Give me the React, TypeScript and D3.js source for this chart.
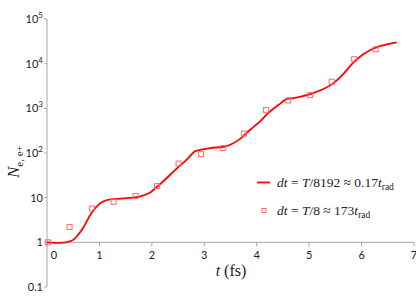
import React from 'react';
import * as d3 from 'd3';

// fine time step (line)
const lineT = [0, 0.26, 0.48, 0.67, 0.86, 0.99, 1.21, 1.46, 1.78, 1.97, 2.13, 2.51, 2.67, 2.83, 2.96, 3.11, 3.37, 3.69, 3.88, 4.07, 4.19, 4.42, 4.58, 4.7, 4.86, 5.02, 5.24, 5.46, 5.65, 5.81, 6.0, 6.19, 6.35, 6.67];
const lineN = [1.0, 0.97, 1.1, 1.95, 4.7, 7.1, 9.2, 9.6, 10.7, 13.1, 18.8, 49, 72, 110, 120, 129, 138, 210, 336, 517, 725, 1200, 1620, 1700, 1860, 2090, 2600, 3620, 5800, 9600, 15200, 20800, 24600, 30000];

// coarse time step (squares)
const markT = [0.02, 0.43, 0.86, 1.27, 1.69, 2.1, 2.51, 2.94, 3.36, 3.76, 4.18, 4.6, 5.02, 5.43, 5.86, 6.27];
const markN = [1.0, 2.2, 5.7, 8.1, 10.9, 18.2, 58, 94, 129, 274, 910, 1500, 1970, 3940, 12600, 21000];

const xTicks = [0, 1, 2, 3, 4, 5, 6, 7];
const yTicks = [0.1, 1, 10, 100, 1000, 10000, 100000];

const W = 416;
const H = 302;

const App = () => {
  const x = d3.scaleLinear().domain([0, 7]).range([47, 414]);
  const y = d3.scaleLog().domain([0.1, 100000]).range([287, 19]);

  const line = d3.line<number>()
    .x((_, i) => x(lineT[i]))
    .y((d) => y(d))
    .curve(d3.curveMonotoneX);

  const axisColor = '#a6a6a6';
  const tickFont = 'Lato, "Open Sans", sans-serif';
  const serif = '"Liberation Serif", "DejaVu Serif", serif';
  const red = '#ff0000';
  const markColor = '#ff6a6a';

  return (
    <svg width={W} height={H} style={{ position: 'absolute', left: 0, top: 0, background: '#fff' }}>
      {/* y axis */}
      <line x1={x(0)} x2={x(0)} y1={y(100000)} y2={y(0.1)} stroke={axisColor} strokeWidth={1} />
      {yTicks.map((v) => (
        <g key={v}>
          <line x1={x(0) - 3} x2={x(0)} y1={y(v)} y2={y(v)} stroke={axisColor} />
          <text x={43} y={y(v) + 4} textAnchor="end" fontFamily={tickFont} fontSize={11} fill="#222">
            {v >= 100 ? (
              <>
                <tspan>10</tspan>
                <tspan fontSize={8} dy={-5}>{Math.round(Math.log10(v))}</tspan>
              </>
            ) : (
              <tspan>{v}</tspan>
            )}
          </text>
        </g>
      ))}

      {/* x axis at N = 1 */}
      <line x1={x(0)} x2={x(7)} y1={y(1)} y2={y(1)} stroke={axisColor} strokeWidth={1} />
      {xTicks.map((v) => (
        <g key={v}>
          <line x1={x(v)} x2={x(v)} y1={y(1)} y2={y(1) + 4} stroke={axisColor} />
          <text x={v === 0 ? x(v) + 7 : x(v)} y={y(1) + 17} textAnchor="middle" fontFamily={tickFont} fontSize={11} fill="#222">
            {v}
          </text>
        </g>
      ))}

      {/* data */}
      <path d={line(lineN) ?? ''} fill="none" stroke={red} strokeWidth={1.8} />
      {markN.map((v, i) => (
        <rect key={i} x={x(markT[i]) - 2.5} y={y(v) - 2.5} width={5} height={5} fill="none" stroke={markColor} strokeWidth={1} />
      ))}

      {/* axis titles */}
      <text x={231} y={276} textAnchor="middle" fontFamily={serif} fontSize={16} fill="#222">
        <tspan fontStyle="italic">t</tspan>
        <tspan> (fs)</tspan>
      </text>
      <text transform="translate(19,178) rotate(-90)" fontFamily={serif} fontSize={17} fill="#222">
        <tspan fontStyle="italic">N</tspan>
        <tspan fontSize={11} dy={4}>e, e+</tspan>
      </text>

      {/* legend */}
      <line x1={257} x2={270} y1={182.5} y2={182.5} stroke={red} strokeWidth={1.8} />
      <text x={277} y={187} fontFamily={serif} fontSize={13.5} fill="#222">
        <tspan fontStyle="italic">dt</tspan>
        <tspan> = </tspan>
        <tspan fontStyle="italic">T</tspan>
        <tspan>/8192 ≈ 0.17</tspan>
        <tspan fontStyle="italic">t</tspan>
        <tspan fontSize={9.5} dy={3}>rad</tspan>
      </text>
      <rect x={262} y={208.5} width={4} height={4} fill="none" stroke={markColor} strokeWidth={1} />
      <text x={277} y={215} fontFamily={serif} fontSize={13.5} fill="#222">
        <tspan fontStyle="italic">dt</tspan>
        <tspan> = </tspan>
        <tspan fontStyle="italic">T</tspan>
        <tspan>/8 ≈ 173</tspan>
        <tspan fontStyle="italic">t</tspan>
        <tspan fontSize={9.5} dy={3}>rad</tspan>
      </text>
    </svg>
  );
};

export default App;
